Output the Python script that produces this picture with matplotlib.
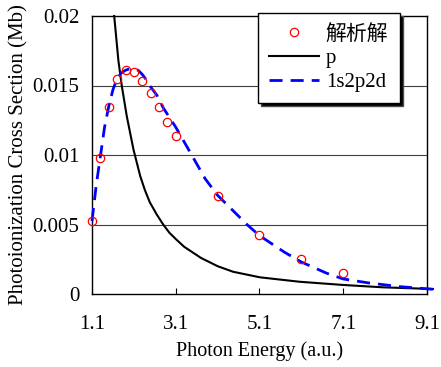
import numpy as np
import matplotlib.pyplot as plt

# analytic solution points
x_exact = [1.1, 1.3, 1.5, 1.7, 1.9, 2.1, 2.3, 2.5, 2.7, 2.9, 3.1, 4.1, 5.1, 6.1, 7.1]
y_exact = [0.00525, 0.0098, 0.01348, 0.01547, 0.01614, 0.01597, 0.0153, 0.01444,
           0.01343, 0.01237, 0.01134, 0.00707, 0.00422, 0.00254, 0.00151]

# p basis
x_p = [1.63, 1.73, 1.81, 1.93, 2.09, 2.25, 2.36, 2.48, 2.65, 2.8, 2.95, 3.12,
       3.3, 3.5, 3.7, 3.9, 4.1, 4.47, 5.11, 6.06, 7.1, 8.05, 9.24]
y_p = [0.0200, 0.0168, 0.0150, 0.0128, 0.0104, 0.0085, 0.0075, 0.0066, 0.0057,
       0.0050, 0.0044, 0.0039, 0.0034, 0.0030, 0.0026, 0.0023, 0.0020, 0.0016,
       0.0012, 0.00088, 0.00065, 0.00048, 0.00036]

# 1s2p2d basis
x_d = [1.1, 1.2, 1.3, 1.4, 1.5, 1.6, 1.7, 1.8, 1.9, 2.0, 2.1, 2.2, 2.3, 2.4, 2.5,
       2.65, 2.8, 3.1, 3.5, 3.8, 4.1, 4.8, 5.1, 5.7, 6.1, 6.7, 7.1, 7.7, 8.45, 9.24]
y_d = [0.00525, 0.0078, 0.0099, 0.0120, 0.0135, 0.0147, 0.0155, 0.0159, 0.0161,
       0.0162, 0.0162, 0.0161, 0.0158, 0.0154, 0.0149, 0.0143, 0.0134, 0.0120,
       0.0099, 0.0083, 0.0071, 0.0050, 0.0042, 0.0030, 0.0023, 0.0015, 0.00108,
       0.0008, 0.00053, 0.00034]

xticks = [1.1, 3.1, 5.1, 7.1, 9.1]
yticks = [0, 0.005, 0.01, 0.015, 0.02]
ytick_labels = ["0", "0.005", "0.01", "0.015", "0.02"]

plt.rcParams['font.family'] = ['Liberation Serif', 'Noto Sans CJK SC']

fig = plt.figure(figsize=(4.41, 3.67), dpi=100)
ax = fig.add_axes([92 / 441, 73 / 367, 335 / 441, 278 / 367])

for yv in yticks[1:-1]:
    ax.axhline(yv, color='#404040', lw=0.8, zorder=1)

ax.plot(x_exact, y_exact, 'o', mfc='none', mec='red', ms=6, mew=0.9,
        label='解析解', zorder=4, clip_on=False)
ax.plot(x_p, y_p, color='black', lw=1.5, label='p', zorder=3, clip_on=False)
ax.plot(x_d, y_d, color='blue', lw=2, dashes=(4.7, 2.9), label='1s2p2d',
        zorder=3, clip_on=False)

ax.set_xlim(1.1, 9.1)
ax.set_ylim(0, 0.02)
ax.set_xticks(xticks)
ax.set_xticklabels([str(v) for v in xticks])
ax.set_yticks(yticks)
ax.set_yticklabels(ytick_labels)
ax.tick_params(axis='x', direction='in', length=4, width=0.8, pad=15, labelsize=15)
ax.tick_params(axis='y', length=0, pad=9, labelsize=15)
for s in ax.spines.values():
    s.set_linewidth(1.0)

ax.set_xlabel('Photon Energy (a.u.)', fontsize=14.5, labelpad=5)
ax.set_ylabel('Photoionization Cross Section (Mb)', fontsize=15, labelpad=3)

leg = ax.legend(loc='upper left', bbox_to_anchor=(258 / 441, 1 - 13 / 367),
                bbox_transform=fig.transFigure, fontsize=15, frameon=True,
                fancybox=False, edgecolor='black', framealpha=1,
                handlelength=2.4, handletextpad=0.3, labelspacing=0.2,
                borderpad=0.55, borderaxespad=0,
                shadow={'facecolor': 'black', 'alpha': 1})
leg.get_frame().set_linewidth(1.0)
leg.set_zorder(10)

fig.savefig('out.png', dpi=100)
